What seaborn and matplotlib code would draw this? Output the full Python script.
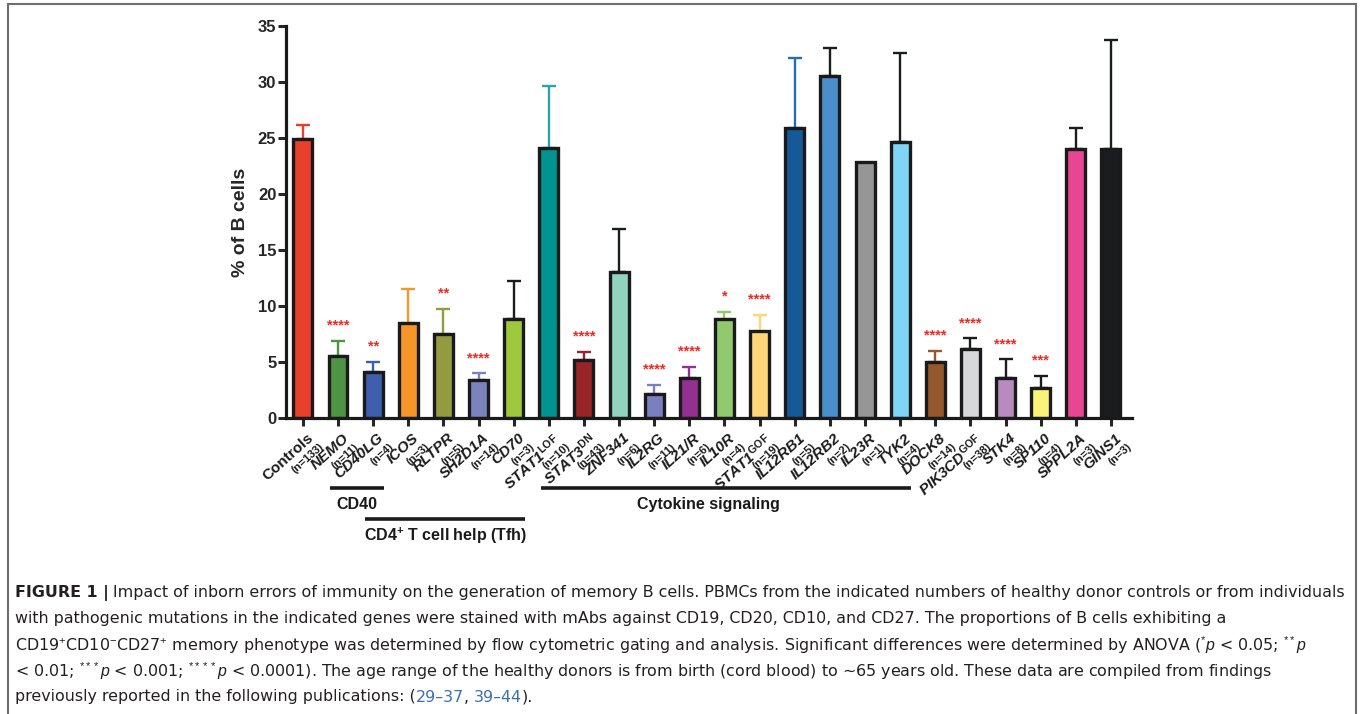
import numpy as np
import pandas as pd
import seaborn as sns
import matplotlib
matplotlib.use("Agg")
import matplotlib.pyplot as plt
from matplotlib import transforms
from matplotlib.patches import Rectangle

# values (% memory B cells, mean and upper error)
genes = ["Controls", "NEMO", "CD40LG", "ICOS", "RLTPR", "SH2D1A", "CD70",
         "STAT1", "STAT3", "ZNF341", "IL2RG", "IL21/R", "IL10R", "STAT1",
         "IL12RB1", "IL12RB2", "IL23R", "TYK2", "DOCK8", "PIK3CD", "STK4",
         "SP110", "SPPL2A", "GINS1"]
superscripts = ["", "", "", "", "", "", "", "LOF", "DN", "", "", "", "", "GOF",
                "", "", "", "", "", "GOF", "", "", "", ""]
sample_n = [133, 11, 4, 3, 5, 14, 3, 10, 43, 6, 11, 6, 4, 19, 5, 2, 1, 4, 14,
            38, 8, 4, 3, 3]
mean_pct = [24.9, 5.55, 4.1, 8.5, 7.5, 3.4, 8.8, 24.1, 5.2, 13.0, 2.15, 3.6,
            8.85, 7.8, 25.9, 30.5, 22.9, 24.6, 5.0, 6.2, 3.6, 2.7, 24.0, 24.0]
err_pct = [1.3, 1.35, 0.9, 3.0, 2.25, 0.6, 3.4, 5.5, 0.7, 3.9, 0.8, 0.95, 0.65,
           1.4, 6.2, 2.5, 0.0, 8.0, 1.0, 0.9, 1.65, 1.05, 1.9, 9.75]
significance = ["", "****", "**", "", "**", "****", "", "", "****", "", "****",
                "****", "*", "****", "", "", "", "", "****", "****", "****",
                "***", "", ""]

bar_colors = ["#e8402c", "#4f9444", "#3f5fae", "#f6962a", "#949a3f", "#7a82c0",
              "#9ec93e", "#00938f", "#962428", "#92d3c0", "#7a80bf", "#943092",
              "#91c96e", "#fcd679", "#155a96", "#4a8ecb", "#969696", "#80d4f5",
              "#94582d", "#d6d8da", "#b88bc0", "#fbf27a", "#e84593", "#1b1c1e"]
err_colors = ["#e8402c", "#4f9444", "#3f5fae", "#f6962a", "#949a3f", "#7a82c0",
              "#1b1c1e", "#2aa3ad", "#962428", "#1b1c1e", "#7a80bf", "#943092",
              "#91c96e", "#fcd679", "#1f6fb2", "#1b1c1e", "#1b1c1e", "#1b1c1e",
              "#94582d", "#1b1c1e", "#1b1c1e", "#1b1c1e", "#1b1c1e", "#1b1c1e"]

# (label, first gene index, last gene index, row)
groups = [("CD40", 1, 2, 0),
          ("CD4$^{\\mathbf{+}}$ T cell help (Tfh)", 2, 6, 1),
          ("Cytokine signaling", 7, 17, 0)]

caption_lines = [
    "Impact of inborn errors of immunity on the generation of memory B cells. PBMCs from the indicated numbers of healthy donor controls or from individuals",
    "with pathogenic mutations in the indicated genes were stained with mAbs against CD19, CD20, CD10, and CD27. The proportions of B cells exhibiting a",
    "CD19$^{+}$CD10$^{-}$CD27$^{+}$ memory phenotype was determined by flow cytometric gating and analysis. Significant differences were determined by ANOVA ($^{*}p$ < 0.05; $^{**}p$",
    "< 0.01; $^{***}p$ < 0.001; $^{****}p$ < 0.0001). The age range of the healthy donors is from birth (cord blood) to \u223c65 years old. These data are compiled from findings",
]

sns.set_style("ticks")
plt.rcParams["font.family"] = ["Liberation Sans", "DejaVu Sans"]
plt.rcParams["mathtext.fontset"] = "custom"
plt.rcParams["mathtext.rm"] = "Liberation Sans"
plt.rcParams["mathtext.it"] = "Liberation Sans:italic"
plt.rcParams["mathtext.bf"] = "Liberation Sans:bold"

keys = [g + s for g, s in zip(genes, superscripts)]
df = pd.DataFrame({"gene": keys, "pct": mean_pct, "err": err_pct})

fig = plt.figure(figsize=(13.6, 7.14), dpi=100)
ax = fig.add_axes([0.2103, 0.4146, 0.6221, 0.549])

sns.barplot(data=df, x="gene", y="pct", hue="gene", palette=bar_colors,
            legend=False, errorbar=None, width=0.54, saturation=1,
            edgecolor="#1a1a1a", linewidth=2.4, ax=ax, zorder=2)

for i, row in df.iterrows():
    if row.err > 0:
        ax.errorbar(i, row.pct, yerr=[[0], [row.err]], color=err_colors[i],
                    elinewidth=1.7, capsize=4.7, capthick=1.7, zorder=1)
    if significance[i]:
        ax.text(i, row.pct + row.err + 1.0, significance[i], color="#ee2a24",
                fontsize=10.5, fontweight="bold", ha="center", va="baseline")

ax.set_xlim(-0.48, 23.6)
ax.set_ylim(0, 35)
ax.set_yticks(range(0, 36, 5))
ax.set_xlabel("")
ax.set_ylabel("% of B cells", fontsize=14, fontweight="bold", labelpad=6)
sns.despine(ax=ax)
for side in ["left", "bottom"]:
    ax.spines[side].set_linewidth(2.3)
    ax.spines[side].set_color("#1a1a1a")
ax.tick_params(axis="y", length=6, width=2.2, labelsize=12, pad=1)
ax.tick_params(axis="x", length=6, width=2.2, labelbottom=False)
for lab in ax.get_yticklabels():
    lab.set_fontweight("bold")

# rotated two-part tick labels: gene name and sample size
angle = 42
th = np.deg2rad(angle)
for i in range(len(genes)):
    name = genes[i]
    if superscripts[i]:
        name += "$^{\\mathbf{" + superscripts[i] + "}}$"
    style = "normal" if i == 0 else "italic"
    off = transforms.ScaledTranslation(0.04, -0.13, fig.dpi_scale_trans)
    ax.text(i, 0, name, transform=ax.get_xaxis_transform() + off,
            rotation=angle, rotation_mode="anchor", ha="right", va="top",
            fontsize=11, fontweight="bold", fontstyle=style, color="#1a1a1a")
    s, a = 0.16, 0.02
    off2 = transforms.ScaledTranslation(0.04 + s * np.sin(th) + a * np.cos(th),
                                        -0.13 - s * np.cos(th) + a * np.sin(th),
                                        fig.dpi_scale_trans)
    ax.text(i, 0, "(n=%d)" % sample_n[i],
            transform=ax.get_xaxis_transform() + off2, rotation=angle,
            rotation_mode="anchor", ha="right", va="top", fontsize=8,
            fontweight="bold", color="#1a1a1a")

# group brackets under the axis
blend = transforms.blended_transform_factory(ax.transData, ax.transAxes)
text_shift = {"Cytokine signaling": -0.5}
for label, first, last, level in groups:
    y_line = -0.179 - 0.079 * level
    ax.plot([first - 0.22, last + 0.32], [y_line, y_line], color="#1a1a1a",
            lw=2.6, transform=blend, clip_on=False, solid_capstyle="butt")
    x_mid = (first - 0.22 + last + 0.32) / 2 + text_shift.get(label, 0)
    ax.text(x_mid, y_line - 0.043, label, transform=blend, ha="center",
            va="center", fontsize=11.5, fontweight="bold", color="#1a1a1a")

# caption
cap_color = "#231f20"
cap_font = ["DejaVu Sans"]
fs = 11.45
line_y = [593, 619, 645, 671, 697]
renderer = fig.canvas.get_renderer()


def fig_y(py):
    return 1 - py / 714


t = fig.text(15 / 1360, fig_y(line_y[0]), "FIGURE 1 |", fontsize=fs,
             fontweight="bold", color=cap_color, va="center", family=cap_font)
x_px = t.get_window_extent(renderer).x1 + 4
fig.text(x_px / 1360, fig_y(line_y[0]), caption_lines[0], fontsize=fs,
         color=cap_color, va="center", family=cap_font)
for k in range(1, 4):
    fig.text(15 / 1360, fig_y(line_y[k]), caption_lines[k], fontsize=fs,
             color=cap_color, va="center", family=cap_font)

last_parts = [("previously reported in the following publications: (", cap_color),
              ("29\u201337", "#3a6fb5"), (", ", cap_color),
              ("39\u201344", "#3a6fb5"), (").", cap_color)]
x_px = 15
for part, col in last_parts:
    t = fig.text(x_px / 1360, fig_y(line_y[4]), part, fontsize=fs, color=col,
                 va="center", family=cap_font)
    x_px = t.get_window_extent(renderer).x1

# grey page frame
fig.patches.append(Rectangle((8 / 1360, -0.02), 1348 / 1360, 1.02 - 4 / 714,
                             transform=fig.transFigure, fill=False,
                             edgecolor="#6e6e6e", lw=1.5))

fig.savefig("out.png", dpi=100)
